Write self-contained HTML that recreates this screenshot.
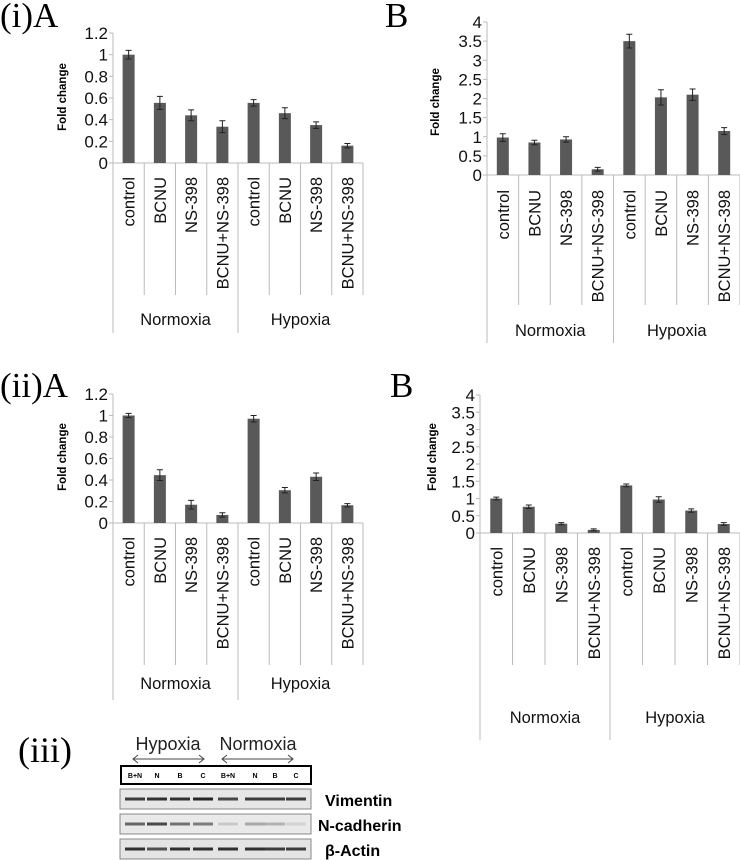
<!DOCTYPE html>
<html><head><meta charset="utf-8"><style>
html,body{margin:0;padding:0;background:#fff;}
svg{display:block;font-family:"Liberation Sans",sans-serif;}
</style></head><body>
<svg id="fig" width="740" height="860" viewBox="0 0 740 860" xmlns="http://www.w3.org/2000/svg">
<text x="0" y="27" font-family="Liberation Serif" font-size="35">(i)A</text>
<text x="385" y="27" font-family="Liberation Serif" font-size="35">B</text>
<text x="0" y="397" font-family="Liberation Serif" font-size="35">(ii)A</text>
<text x="390" y="397" font-family="Liberation Serif" font-size="35">B</text>
<g id="blot">
<text x="18" y="762" font-family="Liberation Serif" font-size="36">(iii)</text>
<text x="168" y="750" text-anchor="middle" font-size="18" fill="#222">Hypoxia</text>
<text x="258" y="750" text-anchor="middle" font-size="18" fill="#222">Normoxia</text>
<g stroke="#444" stroke-width="1" fill="none">
<line x1="133" y1="759" x2="204" y2="759"/><polyline points="138,755 133,759 138,763"/><polyline points="199,755 204,759 199,763"/>
<line x1="222" y1="759" x2="293" y2="759"/><polyline points="227,755 222,759 227,763"/><polyline points="288,755 293,759 288,763"/>
</g>
<rect x="121" y="766" width="190" height="18" fill="#fff" stroke="#000" stroke-width="2"/>
<g font-size="7" font-weight="bold" text-anchor="middle">
<text x="135" y="778">B+N</text><text x="157" y="778">N</text><text x="180" y="778">B</text><text x="203" y="778">C</text>
<text x="228" y="778">B+N</text><text x="255" y="778">N</text><text x="275" y="778">B</text><text x="296" y="778">C</text>
</g>
<rect x="120" y="789" width="191" height="20" fill="#e6e6e6" stroke="#888"/>
<rect x="120" y="814" width="191" height="20" fill="#e9e9e9" stroke="#888"/>
<rect x="120" y="839" width="191" height="20" fill="#e4e4e4" stroke="#888"/>
<g id="bands"></g>
<text x="325" y="806" font-size="16" font-weight="bold">Vimentin</text>
<text x="318" y="831" font-size="16" font-weight="bold">N-cadherin</text>
<text x="325" y="856" font-size="16" font-weight="bold">β-Actin</text>
</g>
</svg>
<script>
const categories = ["control","BCNU","NS-398","BCNU+NS-398","control","BCNU","NS-398","BCNU+NS-398"];
const groups = ["Normoxia","Hypoxia"];
const ncadI = [1.0,0.555,0.44,0.335,0.555,0.46,0.35,0.16];
const ncadIErr = [0.04,0.06,0.05,0.055,0.03,0.05,0.03,0.02];
const vimI = [0.98,0.85,0.93,0.15,3.5,2.03,2.1,1.15];
const vimIErr = [0.1,0.06,0.07,0.05,0.18,0.2,0.15,0.09];
const ncadII = [1.0,0.445,0.17,0.075,0.97,0.305,0.43,0.165];
const ncadIIErr = [0.02,0.05,0.04,0.02,0.03,0.025,0.035,0.015];
const vimII = [1.0,0.76,0.27,0.09,1.38,0.97,0.65,0.26];
const vimIIErr = [0.04,0.05,0.03,0.03,0.04,0.08,0.05,0.04];
const ncadTicks = ["0","0.2","0.4","0.6","0.8","1","1.2"];
const vimTicks = ["0","0.5","1","1.5","2","2.5","3","3.5","4"];
const vimBandStrength = [0.8,0.85,0.85,0.9,0.75,0.8,0.8,0.8];
const ncadBandStrength = [0.6,0.75,0.55,0.5,0.15,0.3,0.25,0.1];
const actinBandStrength = [0.85,0.7,0.85,0.85,0.85,0.85,0.8,0.8];

const NS="http://www.w3.org/2000/svg";
const svg=document.getElementById('fig');
function mk(tag,attrs,parent,txt){const e=document.createElementNS(NS,tag);for(const k in attrs)e.setAttribute(k,attrs[k]);if(txt!==undefined)e.textContent=txt;parent.appendChild(e);return e;}

function drawChart(id,vals,errs,ticks,ymax,L,title){
  const g=mk('g',{},svg);
  
  
  const y=v=>L.y0-(v/ymax)*(L.y0-L.yTop);
  const cw=(L.xR-L.x0)/categories.length;
  const x=i=>L.x0+cw*(i+0.5);
  const ax=mk('line',{x1:L.x0,y1:L.yTop,x2:L.x0,y2:L.gEnd,stroke:'#bbb'},g);
  
  
  const xa=mk('line',{x1:L.x0,y1:L.y0,x2:L.xR,y2:L.y0,stroke:'#bbb'},g);
  
  
  ticks.forEach(t=>{
    const v=parseFloat(t);
    mk('line',{x1:L.x0-4,y1:y(v),x2:L.x0,y2:y(v),stroke:'#bbb'},g);
    const tl=mk('text',{x:L.x0-5,y:y(v)+6,'text-anchor':'end','font-size':L.tf,fill:'#111'},g,t);
    
    
  });
  const yt=mk('text',{x:0,y:0,transform:`translate(${L.ytx},${L.yty}) rotate(-90)`,'text-anchor':'middle','font-size':11.5,'font-weight':'bold'},g,'Fold change');
  
  
  const tt=mk('text',{x:L.titleX,y:L.titleY,'text-anchor':'end','font-size':15,'font-weight':'bold'},g,title);
  
  
  for(let i=1;i<categories.length;i++){
    const xx=L.x0+cw*i;
    mk('line',{x1:xx,y1:L.y0,x2:xx,y2:(i===4?L.gEnd:L.cEnd),stroke:'#bbb'},g);
  }
  mk('line',{x1:L.xR,y1:L.y0,x2:L.xR,y2:L.cEnd,stroke:'#bbb'},g);
  vals.forEach((v,i)=>{
    const b=mk('rect',{x:x(i)-6,y:y(v),width:12,height:L.y0-y(v),fill:'#595959'},g);
    
    
    const e=errs[i],top=y(v+e),bot=y(Math.max(0,v-e));
    const eb=mk('path',{d:`M${x(i)},${top}V${bot}M${x(i)-3},${top}H${x(i)+3}M${x(i)-3},${bot}H${x(i)+3}`,stroke:'#222','stroke-width':1,fill:'none'},g);
    
    
    const cl=mk('text',{x:0,y:0,transform:`translate(${x(i)+6},${L.labTop}) rotate(-90)`,'text-anchor':'end','font-size':16.5,fill:'#111'},g,categories[i]);
    
    
  });
  groups.forEach((gn,j)=>{
    const gl=mk('text',{x:L.x0+cw*(j*4+2),y:L.gY,'text-anchor':'middle','font-size':16.5,fill:'#111'},g,gn);
    
    
  });
}
drawChart('chart-i-a-ncadherin',ncadI,ncadIErr,ncadTicks,1.2,{x0:113,xR:363,yTop:33,y0:163,cEnd:295,gEnd:333,labTop:177,gY:325,tf:17,ytx:66,yty:97,titleX:362,titleY:40});
drawChart('chart-i-b-vimentin',vimI,vimIErr,vimTicks,4,{x0:487,xR:740,yTop:22,y0:175,cEnd:305,gEnd:343,labTop:190,gY:336,tf:17,ytx:439,yty:102,titleX:740,titleY:38});
drawChart('chart-ii-a-ncadherin',ncadII,ncadIIErr,ncadTicks,1.2,{x0:113,xR:363,yTop:394,y0:523,cEnd:665,gEnd:700,labTop:537,gY:689,tf:17,ytx:66,yty:457,titleX:362,titleY:405});
drawChart('chart-ii-b-vimentin',vimII,vimIIErr,vimTicks,4,{x0:480,xR:740,yTop:395,y0:533,cEnd:665,gEnd:740,labTop:547,gY:723,tf:17,ytx:436,yty:457,titleX:740,titleY:415});

const bands=document.getElementById('bands');
const lanes=[135,157,180,203,228,255,275,296];
[[vimBandStrength,799],[ncadBandStrength,824],[actinBandStrength,849]].forEach(([arr,yy])=>{
  arr.forEach((s,i)=>{
    const r=mk('rect',{x:lanes[i]-10,y:yy-1.5,width:20,height:3,fill:'#111',opacity:s},bands);
    
    
  });
});
</script>
</body></html>
